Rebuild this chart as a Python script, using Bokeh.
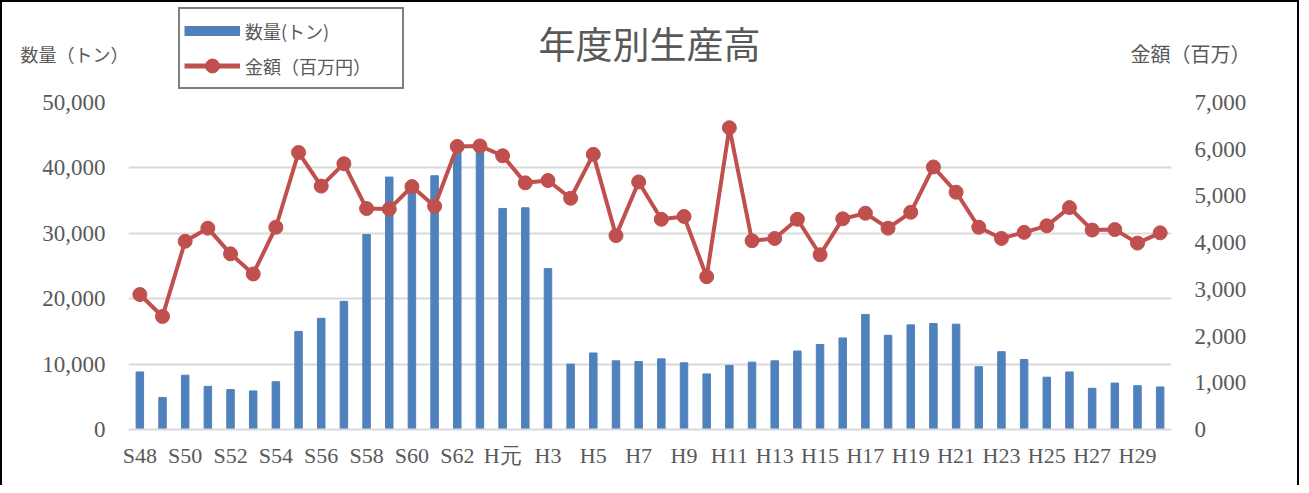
from bokeh.plotting import figure
from bokeh.layouts import column
from bokeh.models import (Range1d, LinearAxis, FixedTicker, NumeralTickFormatter,
                          Legend, LegendItem, Label, ColumnDataSource)
from bokeh.embed import file_html
from bokeh.resources import INLINE

# ---- data ----
categories = ([f"S{n}" for n in range(48, 64)] + ["H元"] + [f"H{n}" for n in range(2, 31)])
quantity_t = [8800, 4900, 8300, 6600, 6100, 5900, 7300, 15000, 17000, 19600, 29800, 38600,
              37000, 38800, 43500, 43500,
              33800, 33900, 24600, 10000, 11700, 10500, 10400, 10800, 10200, 8500,
              9800, 10300, 10500, 12000, 13000, 14000, 17600, 14400, 16000, 16200,
              16100, 9600, 11900, 10700, 8000, 8800, 6300, 7100, 6700, 6500]
amount_m = [2890, 2420, 4030, 4310, 3760, 3330, 4330, 5930, 5210, 5690, 4730, 4720,
            5200, 4780, 6060, 6070,
            5860, 5280, 5330, 4950, 5890, 4150, 5300, 4500, 4560, 3270,
            6460, 4040, 4090, 4500, 3740, 4510, 4630, 4310, 4650, 5620,
            5080, 4330, 4090, 4220, 4360, 4750, 4270, 4280, 3990, 4210]
left_ticks = [0, 10000, 20000, 30000, 40000, 50000]
right_ticks = [0, 1000, 2000, 3000, 4000, 5000, 6000, 7000]
title_text = "年度別生産高"
left_title = "数量（トン）"
right_title = "金額（百万）"
legend_labels = ["数量(トン)", "金額（百万円）"]

BLUE = "#4F81BD"
RED = "#C0504D"
GRAY_TXT = "#595959"
GRID = "#D9D9D9"
TICK_FONT = "Liberation Serif"
CJK = "Noto Sans CJK JP"
W = 1295
HEAD_H = 88
MAIN_H = 483 - HEAD_H

# ---- header: title, axis titles, legend ----
head = figure(width=W, height=HEAD_H, output_backend="svg", toolbar_location=None,
              title=None, x_range=Range1d(0, W), y_range=Range1d(HEAD_H, 0),
              x_axis_location=None, y_axis_location=None, min_border=0)
head.frame_align = False
head.grid.grid_line_color = None
head.outline_line_color = None

head.add_layout(Label(x=647, y=40, text=title_text, text_align="center",
                      text_baseline="middle", text_font=CJK, text_font_size="37px",
                      text_color=GRAY_TXT))
head.add_layout(Label(x=18, y=51, text=left_title, text_align="left",
                      text_baseline="middle", text_font=CJK, text_font_size="18px",
                      text_color=GRAY_TXT))
head.add_layout(Label(x=1128, y=51, text=right_title, text_align="left",
                      text_baseline="middle", text_font=CJK, text_font_size="20px",
                      text_color=GRAY_TXT))

# legend swatches: placed outside the visible header range, shown only in the legend
sw_bar = head.line(x=[-60, -50], y=[-20, -20], color=BLUE, line_width=10)
sw_line = head.line(x=[-60, -50], y=[-20, -20], color=RED, line_width=5)
sw_pt = head.scatter(x=[-55], y=[-20], color=RED, size=14)
legend = Legend(items=[LegendItem(label=legend_labels[0], renderers=[sw_bar]),
                       LegendItem(label=legend_labels[1], renderers=[sw_line, sw_pt])],
                location=(176, 1), orientation="vertical",
                border_line_color="black", border_line_width=2,
                background_fill_color="white", background_fill_alpha=1,
                padding=4, spacing=0, glyph_width=56, glyph_height=35,
                label_height=20, label_standoff=5, label_width=153, margin=0,
                label_text_font=CJK, label_text_font_size="18px",
                label_text_color=GRAY_TXT)
head.add_layout(legend, "center")

# ---- main chart ----
idx = list(range(len(categories)))
src = ColumnDataSource(dict(x=idx, cat=categories, q=quantity_t, a=amount_m))

p = figure(width=W, height=MAIN_H, output_backend="svg", toolbar_location=None,
           title=None, x_range=Range1d(-0.5, len(categories) - 0.5),
           y_range=Range1d(0, 50000),
           min_border_left=126, min_border_right=126, min_border_top=12,
           min_border_bottom=56)
p.frame_align = False
p.outline_line_color = None
p.extra_y_ranges = {"amt": Range1d(0, 7000)}

p.vbar(x="x", top="q", width=0.33, source=src, color=BLUE)
p.line(x="x", y="a", source=src, y_range_name="amt", color=RED, line_width=4)
p.scatter(x="x", y="a", source=src, y_range_name="amt", color=RED, size=14)

p.xaxis.ticker = FixedTicker(ticks=idx[::2])
p.xaxis.major_label_overrides = {i: categories[i] for i in idx[::2]}
p.xaxis.axis_line_color = GRID
p.xaxis.axis_line_width = 2
p.xaxis.major_tick_line_color = None
p.xaxis.minor_tick_line_color = None
p.xaxis.major_label_standoff = 7
p.xaxis.major_label_text_font = TICK_FONT
p.xaxis.major_label_text_font_size = "22px"
p.xaxis.major_label_text_color = GRAY_TXT

p.yaxis.ticker = FixedTicker(ticks=left_ticks)
p.yaxis.formatter = NumeralTickFormatter(format="0,0")
ax_r = LinearAxis(y_range_name="amt", ticker=FixedTicker(ticks=right_ticks),
                  formatter=NumeralTickFormatter(format="0,0"))
p.add_layout(ax_r, "right")
for ax in (p.yaxis[0], ax_r):
    ax.axis_line_color = None
    ax.major_tick_line_color = None
    ax.minor_tick_line_color = None
    ax.major_label_standoff = 17
    ax.major_label_text_font = TICK_FONT
    ax.major_label_text_font_size = "23px"
    ax.major_label_text_color = GRAY_TXT

p.xgrid.grid_line_color = None
p.ygrid.grid_line_color = GRID
p.ygrid.grid_line_width = 2

layout = column(head, p, spacing=0)
layout.styles = {"border-top": "2px solid black", "border-left": "2px solid black",
                 "border-right": "2px solid black"}

open("out.html", "w").write(file_html(layout, INLINE))
